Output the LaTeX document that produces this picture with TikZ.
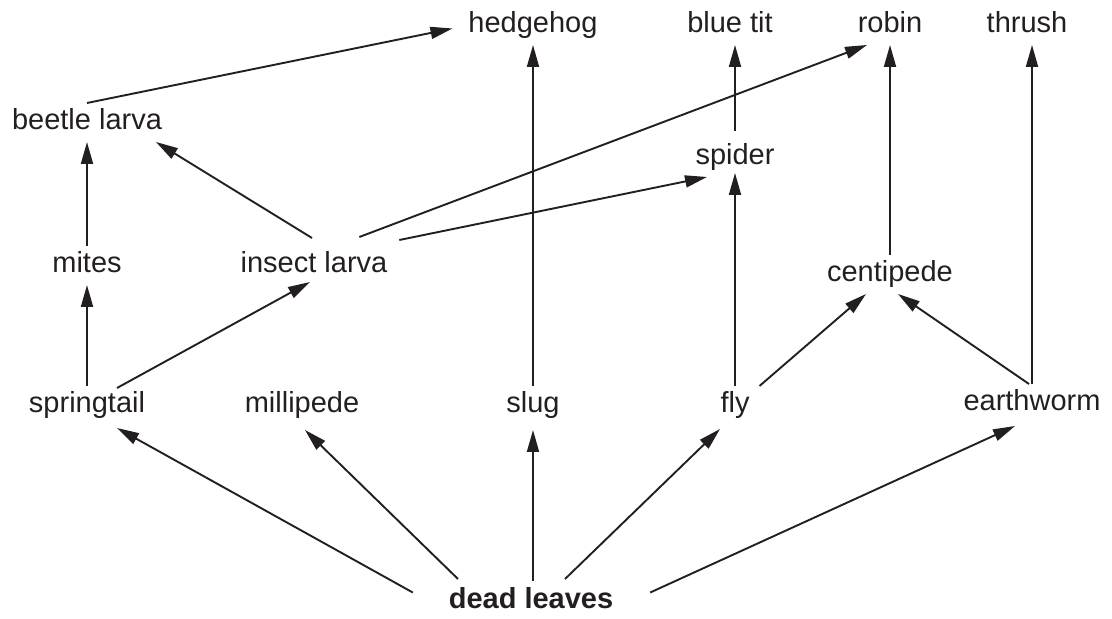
\documentclass[tikz,border=0pt]{standalone}
\usepackage{fontspec}
\setmainfont{Liberation Sans}
\usetikzlibrary{arrows.meta}
\definecolor{ink}{HTML}{231F20}
\tikzset{
  species/.style={anchor=base,inner sep=0pt,outer sep=6bp,
    text height=21bp,text depth=6bp,text=ink,
    font=\fontsize{29bp}{34bp}\selectfont},
  eats/.style={->,draw=ink,line width=1.9bp},
}
\begin{document}
\begin{tikzpicture}[>={Triangle[length=22bp,width=12bp]},line join=bevel,]
%%
\useasboundingbox (0bp,0bp) rectangle (1112bp,619bp);
  \node (hedgehog) at (533bp,586bp) [species] {hedgehog};
  \node (bluetit) at (730bp,586bp) [species] {blue tit};
  \node (robin) at (890bp,586bp) [species] {robin};
  \node (thrush) at (1027bp,586bp) [species] {thrush};
  \node (beetle) at (87bp,489bp) [species] {beetle larva};
  \node (spider) at (735bp,454bp) [species] {spider};
  \node (mites) at (87bp,346bp) [species] {mites};
  \node (insect) at (314bp,346bp) [species] {insect larva};
  \node (centipede) at (890bp,337bp) [species] {centipede};
  \node (springtail) at (87bp,206bp) [species] {springtail};
  \node (millipede) at (302bp,206bp) [species] {millipede};
  \node (slug) at (533bp,206bp) [species] {slug};
  \node (fly) at (735bp,206bp) [species] {fly};
  \node (earthworm) at (1032bp,208bp) [species] {earthworm};
  \node (deadleaves) at (531bp,11bp) [species] {\bfseries dead leaves};
%
  \draw [eats] (slug.north) -- (hedgehog.south);
  \draw [eats] ([yshift=7bp]spider.north) -- ([xshift=5bp]bluetit.south);
  \draw [eats] (centipede.north) -- (robin.south);
  \draw [eats] (earthworm.north) -- ([xshift=5bp]thrush.south);
  \draw [eats] (mites.north) -- (beetle.south);
  \draw [eats] (springtail.north) -- (mites.south);
  \draw [eats] (fly.north) -- ([yshift=4bp]spider.south);
  \draw [eats] (beetle.north) -- ([shift={(-10bp,-3bp)}]hedgehog.west);
  \draw [eats] ([shift={(-34bp,9bp)}]insect.north east) -- ([xshift=-23bp]robin.south);
  \draw [eats] ([shift={(6bp,6bp)}]insect.north east) -- ([xshift=-28bp]spider.south);
  \draw [eats] ([shift={(-2bp,8bp)}]insect.north) -- ([xshift=-12bp]beetle.south east);
  \draw [eats] ([shift={(30bp,-2bp)}]springtail.north) -- ([shift={(-4bp,3bp)}]insect.south);
  \draw [eats] ([xshift=4bp]fly.north east) -- ([xshift=-24bp]centipede.south);
  \draw [eats] ([xshift=-3bp]earthworm.north) -- ([xshift=8bp]centipede.south);
%
  \draw [eats] ([shift={(-30bp,8bp)}]deadleaves.west) -- ([shift={(30bp,-3bp)}]springtail.south);
  \draw [eats] ([shift={(-73bp,2bp)}]deadleaves.north) -- ([shift={(3bp,-5bp)}]millipede.south);
  \draw [eats] ([xshift=2bp]deadleaves.north) -- ([yshift=-5bp]slug.south);
  \draw [eats] ([shift={(34bp,2bp)}]deadleaves.north) -- ([shift={(-15bp,-4bp)}]fly.south);
  \draw [eats] ([shift={(31bp,8bp)}]deadleaves.east) -- ([shift={(-17bp,-3bp)}]earthworm.south);
%
\end{tikzpicture}
\end{document}
